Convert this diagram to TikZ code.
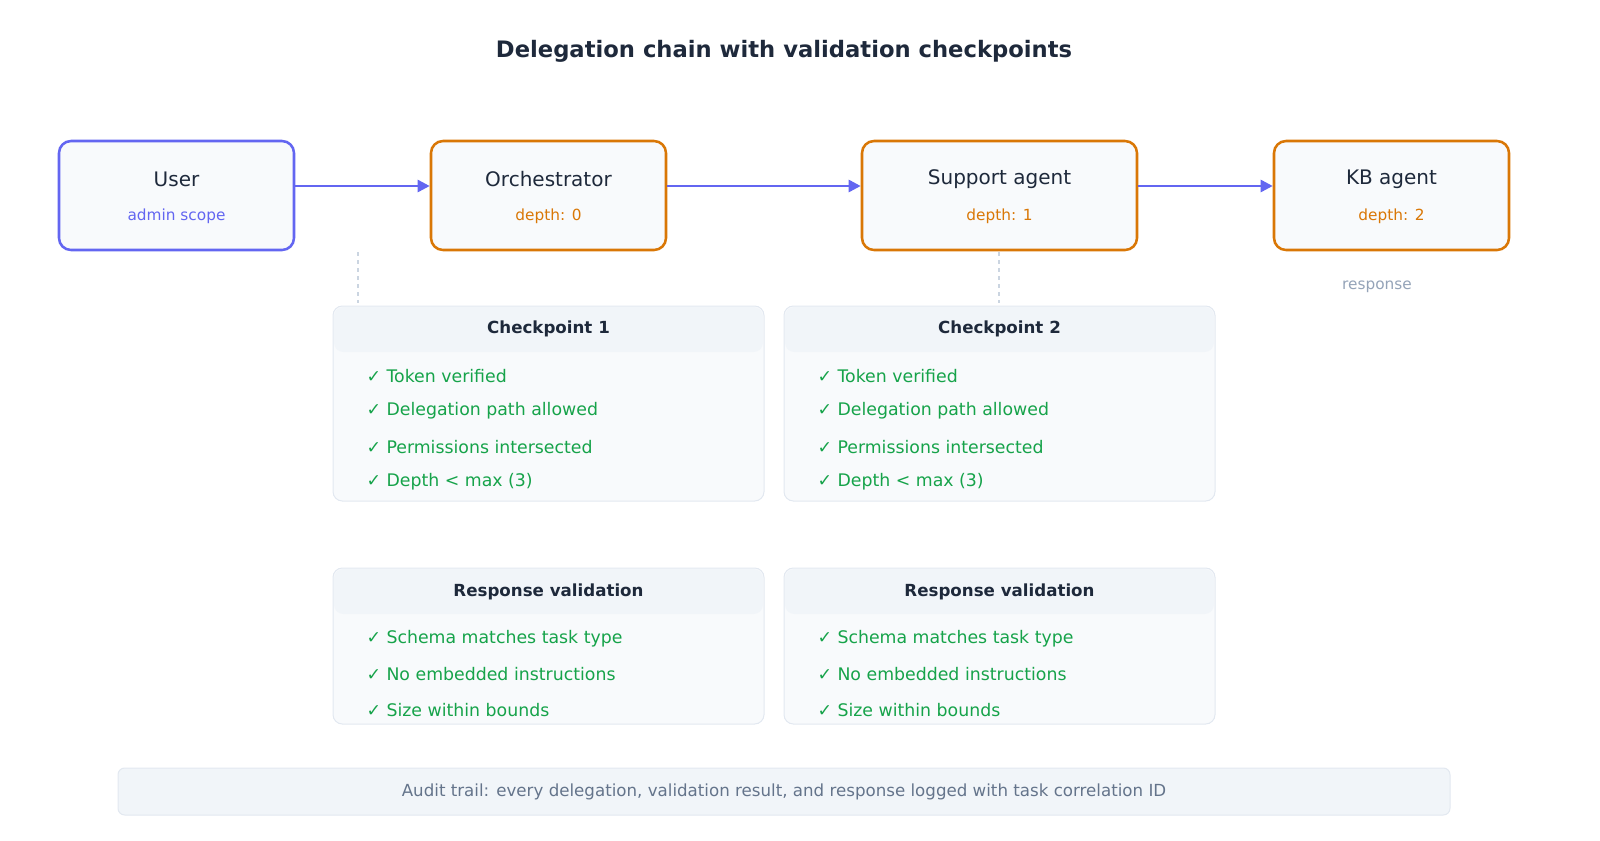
\documentclass[tikz,border=0pt]{standalone}
\usepackage{fontspec}
\setmainfont{DejaVu Sans}
\usetikzlibrary{arrows.meta}
\definecolor{inkc}{HTML}{1E293B}
\definecolor{indigo}{HTML}{6366F1}
\definecolor{amber}{HTML}{D97706}
\definecolor{okgreen}{HTML}{16A34A}
\definecolor{rulec}{HTML}{CBD5E1}
\definecolor{muted}{HTML}{94A3B8}
\definecolor{panel}{HTML}{F8FAFC}
\definecolor{band}{HTML}{F1F5F9}
\definecolor{edgec}{HTML}{E2E8F0}
\definecolor{slate}{HTML}{64748B}
\tikzset{every picture/.style={line width=0.75pt}}
\tikzset{
  agent/.style={draw=amber,line width=1.9pt,fill=panel,rounded corners=9pt,minimum width=176.25pt,minimum height=81.75pt,inner sep=0pt},
  flow/.style={draw=indigo,line width=1.9pt,-{Triangle[length=9pt,width=9pt]}},
  agentname/.style={text=inkc,font=\fontsize{15}{18}\selectfont,inner sep=0.75pt},
  agentsub/.style={font=\fontsize{11.5}{14}\selectfont,inner sep=0.75pt},
  card/.style={draw=edgec,fill=panel,rounded corners=7pt},
  head/.style={text=inkc,font=\bfseries\fontsize{12.5}{15}\selectfont,inner sep=0.75pt},
  item/.style={text=okgreen,font=\fontsize{13}{16}\selectfont,anchor=west,inner sep=0.75pt},
}
\begin{document}
\begin{tikzpicture}[x=0.75pt,y=0.75pt,yscale=-1,xscale=1]
\path[use as bounding box] (0,0) rectangle (1600,840);

% Title
\node[text=inkc,font=\bfseries\fontsize{17}{20}\selectfont] (title) at (784,51) {Delegation chain with validation checkpoints};

% Agents
\node[agent,draw=indigo] (user) at (176.5,195.5) {};
\node[agent] (orch) at (548.5,195.5) {};
\node[agent,minimum width=206.25pt] (support) at (999.5,195.5) {};
\node[agent] (kb) at (1391.5,195.5) {};
\node[agentname] (userT) at (176.5,179) {User};
\node[agentsub,text=indigo] (userS) at (176.5,216) {admin scope};
\node[agentname] (orchT) at (548.5,179) {Orchestrator};
\node[agentsub,text=amber] (orchS) at (548.5,216) {depth: 0};
\node[agentname] (supportT) at (999.5,179) {Support agent};
\node[agentsub,text=amber] (supportS) at (999.5,216) {depth: 1};
\node[agentname] (kbT) at (1391.5,179) {KB agent};
\node[agentsub,text=amber] (kbS) at (1391.5,216) {depth: 2};
\node[agentsub,text=muted] (resp) at (1377,287) {response};

% Arrows
\draw[flow] (user.east |- 0,186) -- (orch.west |- 0,186);
\draw[flow] (orch.east |- 0,186) -- (support.west |- 0,186);
\draw[flow] (support.east |- 0,186) -- (kb.west |- 0,186);

% Dashed links
\coordinate (d1a) at (358,252); \coordinate (d1b) at (358,303);
\coordinate (d2a) at (999,252); \coordinate (d2b) at (999,303);
\draw[rulec,dashed,line width=1pt] (d1a) -- (d1b);
\draw[rulec,dashed,line width=1pt] (d2a) -- (d2b);

% Checkpoint cards
\foreach \x/\n in {333/1,784/2}{
  \draw[card] (\x,306) rectangle (\x+431,501);
  \fill[band,rounded corners=7pt] (\x+1,307) -- (\x+430,307) -- (\x+430,352) -- (\x+1,352) -- cycle;
  \node[head] (cpT\n) at (\x+215.5,329) {Checkpoint \n};
  \node[item] (cpA\n) at (\x+32,376) {✓ Token verified};
  \node[item] (cpB\n) at (\x+32,411) {✓ Delegation path allowed};
  \node[item] (cpC\n) at (\x+32,447) {✓ Permissions intersected};
  \node[item] (cpD\n) at (\x+32,482) {✓ Depth < max (3)};
}

% Response validation cards
\foreach \x/\n in {333/1,784/2}{
  \draw[card] (\x,568) rectangle (\x+431,724);
  \fill[band,rounded corners=7pt] (\x+1,569) -- (\x+430,569) -- (\x+430,614) -- (\x+1,614) -- cycle;
  \node[head] (rvT\n) at (\x+215.5,592) {Response validation};
  \node[item] (rvA\n) at (\x+32,639) {✓ Schema matches task type};
  \node[item] (rvB\n) at (\x+32,674) {✓ No embedded instructions};
  \node[item] (rvC\n) at (\x+32,710) {✓ Size within bounds};
}

% Audit trail
\draw[draw=edgec,fill=band,rounded corners=5pt] (118,768) rectangle (1450,815);
\node[text=slate,font=\fontsize{12.5}{15}\selectfont] (audit) at (784,792) {Audit trail: every delegation, validation result, and response logged with task correlation ID};

\end{tikzpicture}
\end{document}
